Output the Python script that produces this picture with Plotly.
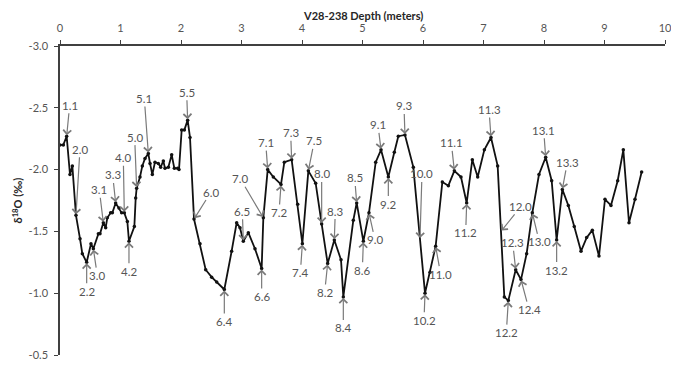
import numpy as np
import plotly.graph_objects as go

# ---- data ----
depth = [0.000, 0.055, 0.110, 0.165, 0.204, 0.264, 0.331, 0.369, 0.441, 0.512,
         0.551, 0.634, 0.661, 0.716, 0.755, 0.782, 0.837, 0.865, 0.920, 0.975,
         1.019, 1.063, 1.113, 1.140, 1.229, 1.251, 1.267, 1.322, 1.361, 1.405,
         1.460, 1.488, 1.526, 1.570, 1.625, 1.664, 1.708, 1.736, 1.791, 1.846,
         1.890, 1.945, 1.967, 2.011, 2.055, 2.110, 2.149, 2.215, 2.314, 2.408,
         2.507, 2.590, 2.716, 2.837, 2.920, 2.975, 3.030, 3.113, 3.223, 3.333,
         3.361, 3.433, 3.526, 3.653, 3.708, 3.829, 3.929, 4.006, 4.105, 4.226,
         4.325, 4.424, 4.534, 4.645, 4.683, 4.848, 4.904, 5.014, 5.107, 5.218,
         5.306, 5.427, 5.526, 5.592, 5.702, 5.840, 6.033, 6.116, 6.209, 6.320,
         6.419, 6.518, 6.628, 6.722, 6.815, 6.904, 7.014, 7.124, 7.234, 7.344,
         7.410, 7.532, 7.620, 7.713, 7.807, 7.917, 8.028, 8.127, 8.209, 8.303,
         8.402, 8.500, 8.612, 8.705, 8.799, 8.909, 9.008, 9.107, 9.218, 9.311,
         9.405, 9.504, 9.614]

d18O = [-2.20, -2.20, -2.27, -1.96, -2.03, -1.63, -1.44, -1.32, -1.25, -1.40,
        -1.36, -1.48, -1.48, -1.57, -1.53, -1.61, -1.65, -1.65, -1.73, -1.69,
        -1.65, -1.65, -1.58, -1.42, -1.54, -1.77, -1.85, -1.94, -2.03, -2.09,
        -2.13, -2.05, -1.96, -2.06, -2.05, -2.02, -2.07, -2.01, -2.02, -2.12,
        -2.01, -2.01, -2.00, -2.32, -2.32, -2.40, -2.26, -1.60, -1.40, -1.19,
        -1.13, -1.09, -1.03, -1.34, -1.57, -1.53, -1.42, -1.49, -1.36, -1.20,
        -1.61, -2.00, -1.94, -1.88, -2.06, -2.08, -1.72, -1.40, -1.99, -1.89,
        -1.56, -1.24, -1.43, -1.27, -0.97, -1.59, -1.73, -1.42, -1.65, -2.06,
        -2.16, -1.94, -2.14, -2.27, -2.28, -2.02, -1.00, -1.17, -1.38, -1.90,
        -1.87, -1.99, -1.94, -1.73, -2.08, -1.94, -2.16, -2.26, -2.03, -0.97,
        -0.94, -1.19, -1.11, -1.32, -1.65, -1.96, -2.10, -1.91, -1.43, -1.84,
        -1.71, -1.54, -1.34, -1.45, -1.51, -1.30, -1.76, -1.71, -1.91, -2.16,
        -1.57, -1.76, -1.98]

x_ticks = [0, 1, 2, 3, 4, 5, 6, 7, 8, 9, 10]
y_ticks = [-3.0, -2.5, -2.0, -1.5, -1.0, -0.5]
y_tick_labels = ["-3.0", "-2.5", "-2.0", "-1.5", "-1.0", "-0.5"]

x_title = "<b>V28-238 Depth (meters)</b>"
y_title = "<b>δ<sup>18</sup>O (‰)</b>"

# stage labels and the depth each arrow points to
stage_labels = ["1.1", "2.0", "2.2", "3.0", "3.1", "3.3", "4.0", "4.2", "5.0", "5.1",
                "5.5", "6.0", "6.4", "6.5", "6.6", "7.0", "7.1", "7.2", "7.3", "7.4",
                "7.5", "8.0", "8.2", "8.3", "8.4", "8.5", "8.6", "9.0", "9.1", "9.2",
                "9.3", "10.0", "10.2", "11.0", "11.1", "11.2", "11.3", "12.0", "12.2",
                "12.3", "12.4", "13.0", "13.1", "13.2", "13.3"]
stage_depth = [0.110, 0.264, 0.441, 0.551, 0.716, 0.920, 1.063, 1.140, 1.267, 1.460,
               2.110, 2.215, 2.716, 3.030, 3.333, 3.361, 3.433, 3.653, 3.829, 4.006,
               4.105, 4.325, 4.424, 4.534, 4.683, 4.904, 5.014, 5.107, 5.306, 5.427,
               5.702, 5.950, 6.033, 6.209, 6.518, 6.722, 7.124, 7.289, 7.410,
               7.532, 7.620, 7.807, 8.028, 8.209, 8.303]

# ---- label offsets (pixels, layout only) ----
label_dx = [3, 4, 0, 4, -4, -3, -1, 0, -2, -4,
            -1, 17, 0, -1, 0, -23, -2, -2, -1, -2,
            6, 0, -3, 1, 0, -2, -1, 6, -3, 0,
            -1, 2, -1, 5, -3, -1, -2, 20, -2,
            -3, 8, 7, -2, 0, 5]
label_dy = [-31, -66, 29, 27, -33, -28, -55, 30, -51, -55,
            -28, -27, 32, -30, 28, -39, -27, 28, -27, 29,
            -30, -50, 29, -29, 31, -25, 29, 27, -25, 27,
            -29, -65, 27, 28, -28, 30, -28, -25, 32,
            -27, 30, 29, -27, 30, -27]

FONT = "Lato, 'Open Sans', sans-serif"
TEXT_GREY = "#555555"
ARROW_GREY = "#7a7a7a"
TITLE_COLOR = "#262626"

fig = go.Figure()
fig.add_trace(go.Scatter(
    x=depth, y=d18O, mode="lines+markers",
    line=dict(color="#111111", width=1.8),
    marker=dict(color="#111111", size=3.5),
    showlegend=False, hoverinfo="skip",
))

tip_y = np.interp(stage_depth, depth, d18O)
for lab, xd, yd, dx, dy in zip(stage_labels, stage_depth, tip_y, label_dx, label_dy):
    fig.add_annotation(
        x=xd, y=float(yd), xref="x", yref="y",
        text=lab, showarrow=True, ax=dx, ay=dy,
        arrowhead=4, arrowsize=1.3, arrowwidth=1.2, arrowcolor=ARROW_GREY,
        standoff=1, startstandoff=0,
        font=dict(family=FONT, size=11.5, color=TEXT_GREY),
    )

# axis titles
fig.add_annotation(
    x=0.5, y=1, xref="paper", yref="paper", xanchor="center", yanchor="middle",
    yshift=31, text=x_title, showarrow=False,
    font=dict(family=FONT, size=11, color=TITLE_COLOR),
)
fig.add_annotation(
    x=0, y=0.5, xref="paper", yref="paper", xanchor="center", yanchor="middle",
    xshift=-43, text=y_title, showarrow=False, textangle=-90,
    font=dict(family=FONT, size=11, color=TITLE_COLOR),
)

fig.update_layout(
    width=679, height=366,
    margin=dict(l=52, r=22, t=38, b=19),
    paper_bgcolor="white", plot_bgcolor="white",
    font=dict(family=FONT, size=11, color=TEXT_GREY),
    xaxis=dict(
        side="top", range=[0, 10], tickvals=x_ticks, automargin=False,
        showline=True, linecolor="#404040", linewidth=1.5,
        ticks="outside", ticklen=4, tickcolor="#404040", tickwidth=1.2,
        ticklabelstandoff=4,
        showgrid=False, zeroline=False,
        tickfont=dict(family=FONT, size=11, color=TEXT_GREY),
    ),
    yaxis=dict(
        range=[-0.5, -3.0], tickvals=y_ticks, ticktext=y_tick_labels, automargin=False,
        showline=True, linecolor="#404040", linewidth=1.5,
        ticks="outside", ticklen=4, tickcolor="#404040", tickwidth=1.2,
        ticklabelstandoff=4,
        showgrid=False, zeroline=False,
        tickfont=dict(family=FONT, size=11, color=TEXT_GREY),
    ),
)

fig.write_html("out.html")
